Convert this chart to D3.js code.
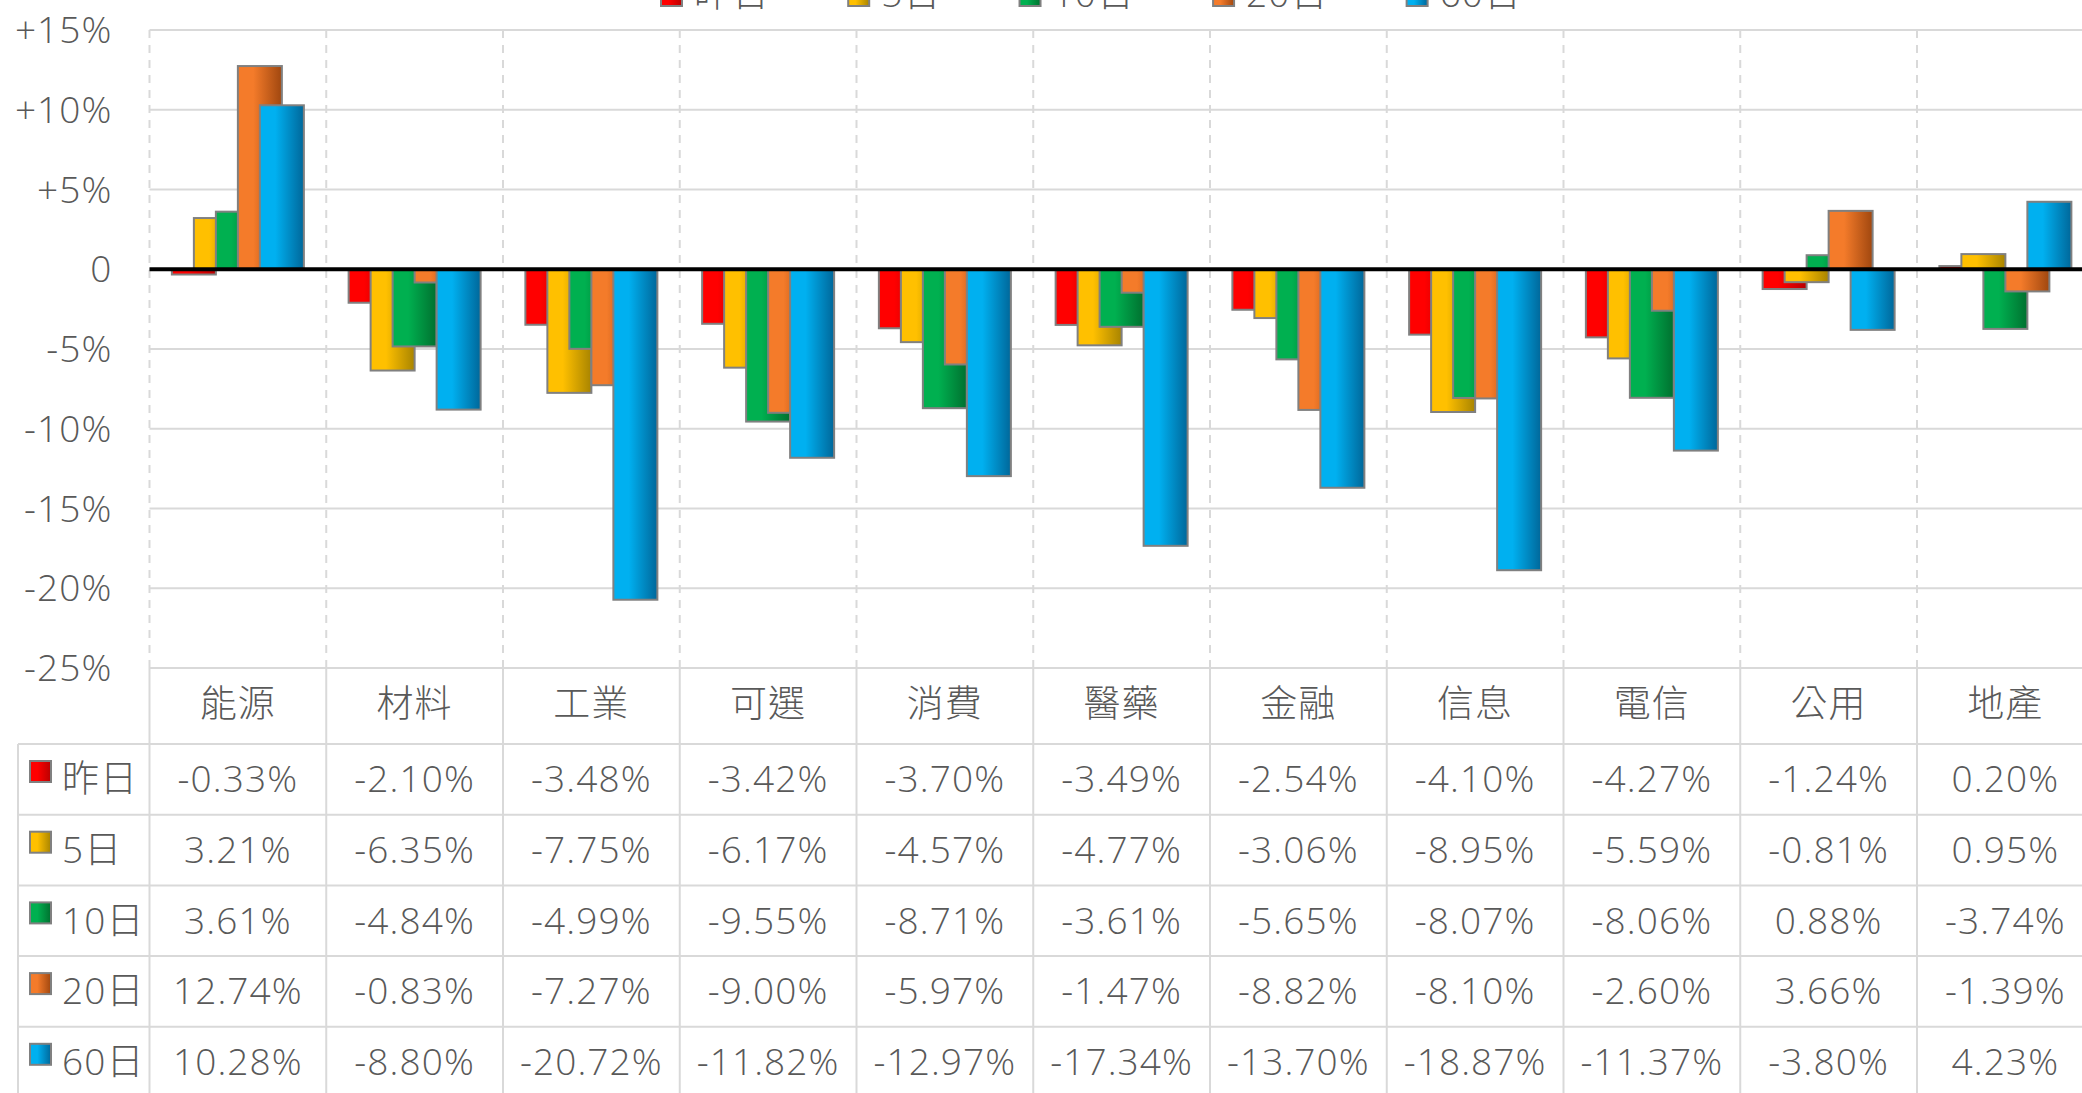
<!DOCTYPE html>
<html><head><meta charset="utf-8">
<script src="https://cdn.jsdelivr.net/npm/d3@7/dist/d3.min.js"></script>
<style>
body{margin:0;background:#fff;overflow:hidden}
text{font-family:"Open Sans","Noto Sans CJK TC",sans-serif;fill:#595959;font-weight:300;letter-spacing:1.1px}
</style>
</head><body><svg id="c" width="2082" height="1093"></svg>
<script>
// ---- data ----
const categories = ["能源","材料","工業","可選","消費","醫藥","金融","信息","電信","公用","地產"];
const seriesNames = ["昨日","5日","10日","20日","60日"];
const s1d  = [-0.33,-2.10,-3.48,-3.42,-3.70,-3.49,-2.54,-4.10,-4.27,-1.24,0.20];
const s5d  = [3.21,-6.35,-7.75,-6.17,-4.57,-4.77,-3.06,-8.95,-5.59,-0.81,0.95];
const s10d = [3.61,-4.84,-4.99,-9.55,-8.71,-3.61,-5.65,-8.07,-8.06,0.88,-3.74];
const s20d = [12.74,-0.83,-7.27,-9.00,-5.97,-1.47,-8.82,-8.10,-2.60,3.66,-1.39];
const s60d = [10.28,-8.80,-20.72,-11.82,-12.97,-17.34,-13.70,-18.87,-11.37,-3.80,4.23];
const yTicks = [15,10,5,0,-5,-10,-15,-20,-25];
const yTickLabels = ["+15%","+10%","+5%","0","-5%","-10%","-15%","-20%","-25%"];

// ---- styles ----
const seriesColors = [["#FF0000","#B80000"],["#FFC000","#A88400"],["#00B050","#00702F"],["#F47B2A","#A0470F"],["#00B0F0","#00679A"]];
const gridColor = "#D9D9D9";
const FS = 37;

const seriesValues = [s1d,s5d,s10d,s20d,s60d];
const series = seriesNames.map((n,i)=>({name:n, idx:i, values:seriesValues[i]}));

const svg = d3.select("#c");
const plotLeft = 149.5, bw = 176.75;
const x0 = d3.scaleBand().domain(categories).range([plotLeft, plotLeft + bw*categories.length]).padding(0);
const step = 22;
const xs = d3.scaleBand().domain(seriesNames).range([0, step*seriesNames.length]).padding(0);
const groupOffset = (x0.bandwidth() - step*(seriesNames.length+1))/2;
const y = d3.scaleLinear().domain([-25,15]).range([668,30]);
const plotRight = x0.range()[1];

// gradients
const defs = svg.append("defs");
series.forEach(s=>{
  const g = defs.append("linearGradient").attr("id","g"+s.idx).attr("x1","0").attr("x2","1").attr("y1","0").attr("y2","0");
  g.append("stop").attr("offset","0").attr("stop-color",seriesColors[s.idx][0]);
  g.append("stop").attr("offset","0.35").attr("stop-color",seriesColors[s.idx][0]);
  g.append("stop").attr("offset","1").attr("stop-color",seriesColors[s.idx][1]);
});

// horizontal gridlines
svg.append("g").selectAll("line").data(yTicks).join("line")
  .attr("x1",plotLeft).attr("x2",plotRight)
  .attr("y1",d=>y(d)).attr("y2",d=>y(d))
  .attr("stroke",gridColor).attr("stroke-width",2);

// vertical dashed lines in plot
const bounds = d3.range(categories.length+1).map(i=>plotLeft + i*x0.step());
svg.append("g").selectAll("line").data(bounds).join("line")
  .attr("x1",d=>d).attr("x2",d=>d).attr("y1",y(15)).attr("y2",y(-25))
  .attr("stroke",gridColor).attr("stroke-width",2).attr("stroke-dasharray","8,7");

// y axis
const yAxis = d3.axisLeft(y).tickValues(yTicks).tickFormat((d,i)=>yTickLabels[i]).tickSize(0).tickPadding(37);
const ya = svg.append("g").attr("transform",`translate(${plotLeft},0)`).call(yAxis);
ya.select(".domain").remove();
ya.selectAll("text").attr("font-size",FS).attr("font-family",null).attr("fill","#595959").attr("dy","0.34em");

// bars
const barG = svg.append("g");
series.forEach(s=>{
  barG.append("g").selectAll("rect").data(s.values.map((v,i)=>({v,cat:categories[i]}))).join("rect")
    .attr("x",d=>x0(d.cat)+groupOffset+xs(s.name))
    .attr("width",2*xs.step())
    .attr("y",d=>Math.min(y(d.v),y(0)))
    .attr("height",d=>Math.abs(y(d.v)-y(0)))
    .attr("fill",`url(#g${s.idx})`)
    .attr("stroke","#808080").attr("stroke-width",2);
});

// zero line
svg.append("line").attr("x1",plotLeft).attr("x2",plotRight).attr("y1",y(0)).attr("y2",y(0))
  .attr("stroke","#000").attr("stroke-width",4);

// ---- data table ----
const headerTop = y(-25), headerH = 76, rowH = 70.7, tableLeft = 18;
const rowTop = i => headerTop + headerH + i*rowH;
const tbl = svg.append("g");
tbl.selectAll("line.v").data(bounds).join("line").attr("class","v")
  .attr("x1",d=>d).attr("x2",d=>d).attr("y1",headerTop).attr("y2",1100)
  .attr("stroke",gridColor).attr("stroke-width",2);
tbl.append("line").attr("x1",tableLeft).attr("x2",tableLeft).attr("y1",rowTop(0)).attr("y2",1100)
  .attr("stroke",gridColor).attr("stroke-width",2);
tbl.selectAll("line.h").data(d3.range(seriesNames.length+1)).join("line").attr("class","h")
  .attr("x1",tableLeft).attr("x2",plotRight).attr("y1",d=>rowTop(d)).attr("y2",d=>rowTop(d))
  .attr("stroke",gridColor).attr("stroke-width",2);
tbl.selectAll("text.cat").data(categories).join("text").attr("class","cat")
  .attr("x",d=>x0(d)+x0.bandwidth()/2).attr("y",headerTop+headerH/2+11)
  .attr("text-anchor","middle").attr("font-size",FS).text(d=>d);
series.forEach((s,r)=>{
  const cy = rowTop(r)+rowH/2;
  tbl.append("rect").attr("x",30).attr("y",rowTop(r)+17).attr("width",21).attr("height",21)
    .attr("fill",`url(#g${s.idx})`).attr("stroke","#808080").attr("stroke-width",2);
  tbl.append("text").attr("x",62).attr("y",cy+12.8).attr("font-size",FS).text(s.name);
  tbl.append("g").selectAll("text").data(s.values).join("text")
    .attr("x",(d,i)=>x0(categories[i])+x0.bandwidth()/2).attr("y",cy+12.8)
    .attr("text-anchor","middle").attr("font-size",FS)
    .text(d=>d.toFixed(2)+"%");
});

// ---- top legend (cut off at the top edge, as in the reference) ----
const leg = svg.append("g");
let lx = 661;
series.forEach(s=>{
  leg.append("rect").attr("x",lx).attr("y",-15).attr("width",21).attr("height",21)
    .attr("fill",`url(#g${s.idx})`).attr("stroke","#808080").attr("stroke-width",2);
  const t = leg.append("text").attr("x",lx+33).attr("y",7).attr("font-size",FS).text(s.name);
  lx += 33 + t.node().getComputedTextLength() + 78;
});
</script></body></html>
